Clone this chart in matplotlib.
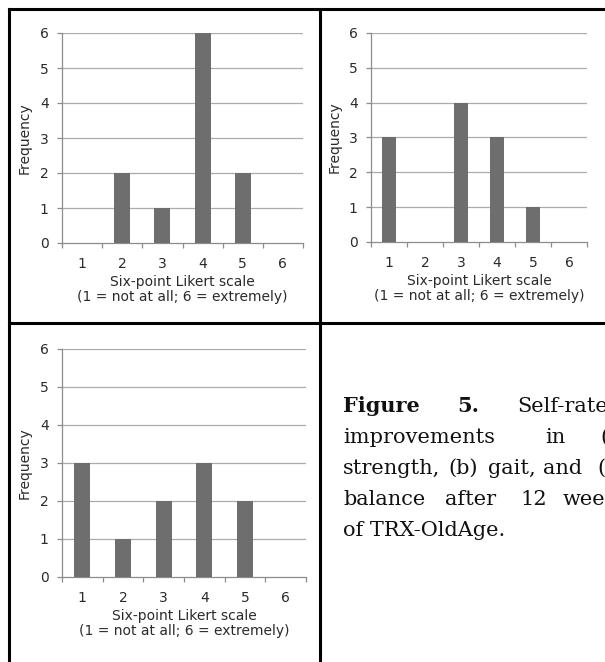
import matplotlib
matplotlib.use("Agg")
import matplotlib.pyplot as plt
from matplotlib.lines import Line2D

# ---- data ----
categories = [1, 2, 3, 4, 5, 6]
tick_labels = ["1", "2", "3", "4", "5", "6"]
strength = [0, 2, 1, 6, 2, 0]
gait = [3, 0, 4, 3, 1, 0]
balance = [3, 1, 2, 3, 2, 0]
y_ticks = [0, 1, 2, 3, 4, 5, 6]
xlabel_text = "Six-point Likert scale\n(1 = not at all; 6 = extremely)"
ylabel_text = "Frequency"

W, H = 605, 662
fig = plt.figure(figsize=(W / 100, H / 100), dpi=100)
fig.patch.set_facecolor("white")

SANS = ["DejaVu Sans"]
SERIF = ["DejaVu Serif"]
BAR = "#6e6e6e"
GRID = "#ababab"
AXC = "#8c8c8c"
TXT = "#2a2a2a"


def px_axes(x0, x1, ytop, ybot):
    return fig.add_axes([x0 / W, 1 - ybot / H, (x1 - x0) / W, (ybot - ytop) / H])


def draw_panel(ax, values, ylab_x_px, x0):
    ax.set_xlim(0.5, 6.5)
    ax.set_ylim(0, 6)
    for v in y_ticks[1:]:
        ax.axhline(v, color=GRID, lw=0.9, zorder=1)
    ax.bar(categories, values, width=0.4, color=BAR, zorder=3)
    for s in ["top", "right"]:
        ax.spines[s].set_visible(False)
    for s in ["left", "bottom"]:
        ax.spines[s].set_color(AXC)
        ax.spines[s].set_linewidth(0.9)
    ax.set_yticks(y_ticks)
    ax.set_yticklabels([str(v) for v in y_ticks])
    ax.set_xticks(categories)
    ax.set_xticklabels(tick_labels)
    ax.set_xticks([c - 0.5 for c in categories] + [6.5], minor=True)
    ax.tick_params(axis="x", which="major", length=0, pad=10, labelsize=10,
                   labelcolor=TXT)
    ax.tick_params(axis="x", which="minor", length=3.5, color=AXC, width=0.9,
                   direction="out")
    ax.tick_params(axis="y", which="major", length=3.5, color=AXC, width=0.9,
                   pad=6, labelsize=10, labelcolor=TXT)
    for lab in ax.get_xticklabels() + ax.get_yticklabels():
        lab.set_family(SANS)
    ax.set_xlabel(xlabel_text, fontsize=10, family=SANS, color=TXT,
                  linespacing=1.05, labelpad=3)
    ax.set_ylabel(ylabel_text, fontsize=10, family=SANS, color=TXT, va="center")
    width_px = ax.get_position().width * W
    ax.yaxis.set_label_coords((ylab_x_px - x0) / width_px, 0.5)


ax1 = px_axes(62, 303, 33, 243)
draw_panel(ax1, strength, 25, 62)
ax2 = px_axes(371, 587, 33, 242)
draw_panel(ax2, gait, 335, 371)
ax3 = px_axes(62, 306, 349, 577)
draw_panel(ax3, balance, 25, 62)

# ---- table borders ----
LW = 2.2


def hline(y, x0, x1):
    fig.add_artist(Line2D([x0 / W, x1 / W], [1 - y / H, 1 - y / H],
                          transform=fig.transFigure, color="black", lw=LW,
                          solid_capstyle="projecting"))


def vline(x, y0, y1):
    fig.add_artist(Line2D([x / W, x / W], [1 - y0 / H, 1 - y1 / H],
                          transform=fig.transFigure, color="black", lw=LW,
                          solid_capstyle="projecting"))


hline(9, 9, 605)
hline(323, 9, 605)
vline(9, 9, 662)
vline(320, 9, 662)

# ---- caption (justified words, cut at the right edge as in the source) ----
CAP = 15
caption_words = [
    (343, 412, "Figure", "bold"),
    (457, 412, "5.", "bold"),
    (517, 412, "Self-rated", "normal"),
    (343, 443, "improvements", "normal"),
    (545, 443, "in", "normal"),
    (600, 443, "(a)", "normal"),
    (343, 474, "strength,", "normal"),
    (448, 474, "(b)", "normal"),
    (488, 474, "gait,", "normal"),
    (543, 474, "and", "normal"),
    (597, 474, "(c)", "normal"),
    (343, 505, "balance", "normal"),
    (445, 505, "after", "normal"),
    (520, 505, "12", "normal"),
    (563, 505, "weeks", "normal"),
    (343, 536, "of TRX-OldAge.", "normal"),
]
for x, y, t, w in caption_words:
    fig.text(x / W, 1 - y / H, t, fontsize=CAP, family=SERIF, weight=w,
             ha="left", va="baseline", color="#111111")

fig.savefig("out.png", dpi=100)
